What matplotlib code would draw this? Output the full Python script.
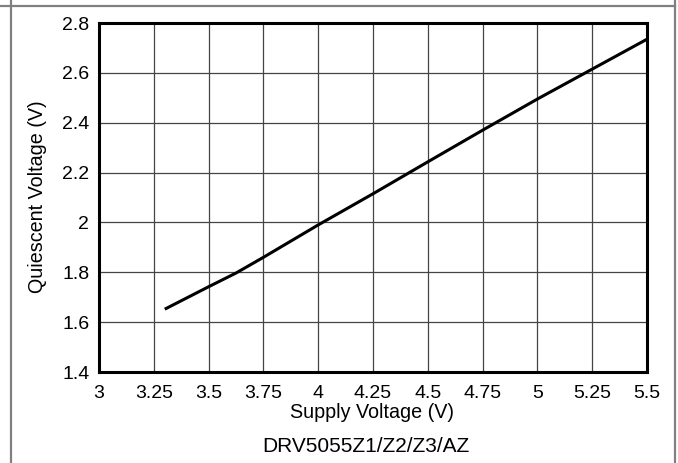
import numpy as np
import matplotlib.pyplot as plt
from matplotlib.lines import Line2D

plt.rcParams['font.family'] = ['Liberation Sans', 'DejaVu Sans']

# Quiescent output voltage vs supply voltage
supply_v = [3.3, 3.5, 3.625, 3.75, 4.0, 4.25, 4.5, 4.75, 5.0, 5.25, 5.5]
quiescent_v = [1.652, 1.742, 1.797, 1.860, 1.990, 2.115, 2.243, 2.370, 2.495, 2.615, 2.735]

x_ticks = [3, 3.25, 3.5, 3.75, 4, 4.25, 4.5, 4.75, 5, 5.25, 5.5]
x_tick_labels = ['3', '3.25', '3.5', '3.75', '4', '4.25', '4.5', '4.75', '5', '5.25', '5.5']
y_ticks = [1.4, 1.6, 1.8, 2.0, 2.2, 2.4, 2.6, 2.8]
y_tick_labels = ['1.4', '1.6', '1.8', '2', '2.2', '2.4', '2.6', '2.8']

W, H = 678, 463
fig = plt.figure(figsize=(W / 100, H / 100), dpi=100)
ax = fig.add_axes([99 / W, 1 - 372 / H, (647 - 99) / W, (372 - 23) / H])

ax.plot(supply_v, quiescent_v, color='black', linewidth=2.2, solid_capstyle='butt')

ax.set_xlim(3, 5.5)
ax.set_ylim(1.4, 2.8)
ax.set_xticks(x_ticks)
ax.set_xticklabels(x_tick_labels)
ax.set_yticks(y_ticks)
ax.set_yticklabels(y_tick_labels)
ax.tick_params(length=0, labelsize=14)
ax.tick_params(axis='x', pad=9)
ax.tick_params(axis='y', pad=7)
ax.grid(True, color='#444444', linewidth=0.9)
ax.set_axisbelow(True)
for s in ax.spines.values():
    s.set_linewidth(2.2)
    s.set_color('black')

fig.text(372 / W, 1 - 412 / H, 'Supply Voltage (V)', ha='center', va='center', fontsize=14.2)
fig.text(38 / W, 1 - 197 / H, 'Quiescent Voltage (V)', ha='center', va='center',
         rotation=90, fontsize=14.2)
fig.text(366 / W, 1 - 446 / H, 'DRV5055Z1/Z2/Z3/AZ', ha='center', va='center', fontsize=15)

# table-style frame lines around the figure
frame = dict(color='#808080', linewidth=1.6, transform=fig.transFigure)
fig.add_artist(Line2D([0, 675 / W], [1 - 5.5 / H, 1 - 5.5 / H], **frame))
fig.add_artist(Line2D([10.5 / W, 10.5 / W], [0, 1], **frame))
fig.add_artist(Line2D([674.5 / W, 674.5 / W], [0, 1], **frame))

fig.savefig('out.png', dpi=100)
